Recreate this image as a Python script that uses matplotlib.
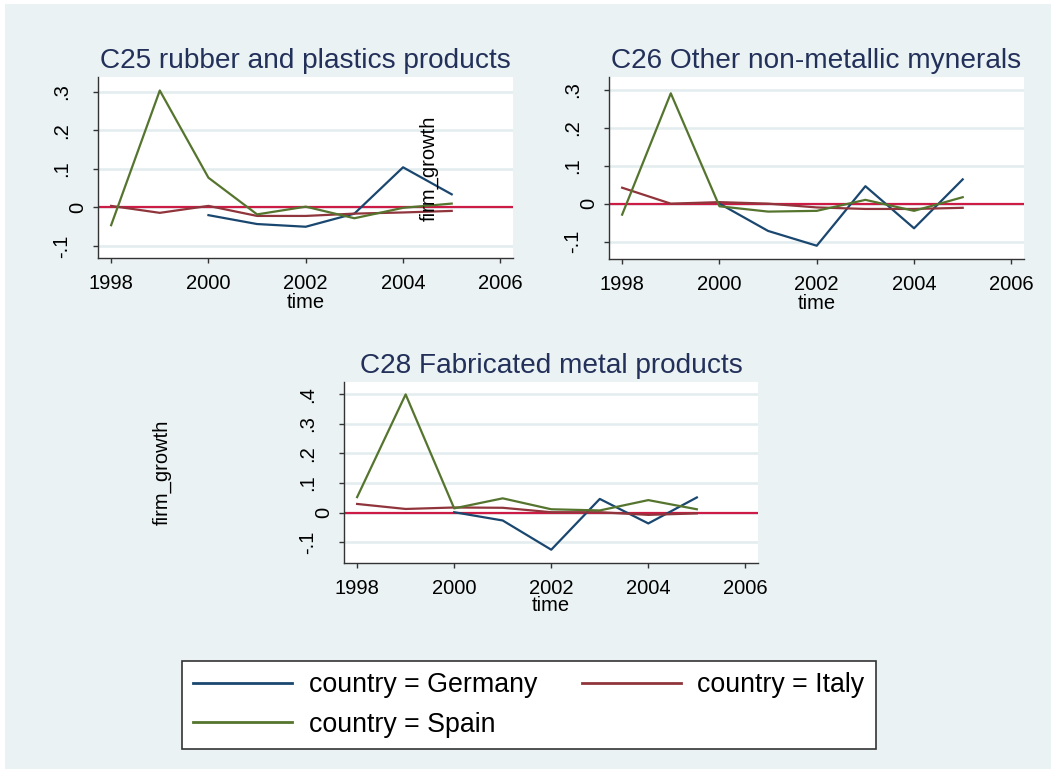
import matplotlib
matplotlib.use("Agg")
import matplotlib.pyplot as plt
from matplotlib.patches import Rectangle
from matplotlib.lines import Line2D
from matplotlib.transforms import blended_transform_factory, offset_copy

plt.rcParams["font.family"] = ["Liberation Sans", "DejaVu Sans"]

# ---- data -------------------------------------------------------------
years = [1998, 1999, 2000, 2001, 2002, 2003, 2004, 2005]
years_germany = [2000, 2001, 2002, 2003, 2004, 2005]

countries = ["Germany", "Italy", "Spain"]

c25_germany = [-0.020, -0.043, -0.050, -0.016, 0.104, 0.034]
c25_italy = [0.004, -0.014, 0.004, -0.022, -0.022, -0.016, -0.013, -0.009]
c25_spain = [-0.046, 0.303, 0.077, -0.018, 0.002, -0.028, -0.001, 0.010]

c26_germany = [0.000, -0.072, -0.111, 0.046, -0.065, 0.064]
c26_italy = [0.042, 0.000, 0.004, 0.000, -0.010, -0.014, -0.014, -0.011]
c26_spain = [-0.029, 0.291, -0.007, -0.021, -0.019, 0.010, -0.019, 0.017]

c28_germany = [0.001, -0.027, -0.126, 0.046, -0.037, 0.051]
c28_italy = [0.029, 0.012, 0.017, 0.016, 0.001, 0.001, -0.008, -0.003]
c28_spain = [0.052, 0.400, 0.014, 0.048, 0.011, 0.007, 0.042, 0.011]

titles = ["C25 rubber and plastics products",
          "C26 Other non-metallic mynerals",
          "C28 Fabricated metal products"]

xticks = [1998, 2000, 2002, 2004, 2006]
yticks_small = [-0.1, 0, 0.1, 0.2, 0.3]
yticks_large = [-0.1, 0, 0.1, 0.2, 0.3, 0.4]

# ---- style ------------------------------------------------------------
BG = "#EAF2F3"
GRID = "#E3ECEE"
AXIS = "#333333"
TITLE = "#22305A"
COLORS = {"Germany": "#1A476F", "Italy": "#90353B", "Spain": "#55752F"}
ZERO_LINE = "#CC1C45"
TICK_FS = 14.5

W, H = 1051, 769
fig = plt.figure(figsize=(W / 100, H / 100), dpi=100)
fig.patch.set_facecolor(BG)
fig.add_artist(Rectangle((0, 0), 5 / W, 1, transform=fig.transFigure,
                         facecolor="white", edgecolor="none", zorder=-5))
fig.add_artist(Rectangle((0, 1 - 4 / H), 1, 4 / H, transform=fig.transFigure,
                         facecolor="white", edgecolor="none", zorder=-5))


def px_axes(left, top, right, bottom):
    return fig.add_axes([left / W, 1 - bottom / H,
                         (right - left) / W, (bottom - top) / H])


def stata_label(v):
    s = f"{v:g}"
    if s.startswith("0."):
        s = s[1:]
    elif s.startswith("-0."):
        s = "-" + s[2:]
    return s


panels = [
    (titles[0], (98, 77, 513, 258), (-0.131, 0.338), yticks_small,
     c25_germany, c25_italy, c25_spain, 68, 308),
    (titles[1], (609, 77, 1024, 259), (-0.146, 0.334), yticks_small,
     c26_germany, c26_italy, c26_spain, 68, 309),
    (titles[2], (344, 382, 758, 563), (-0.171, 0.442), yticks_large,
     c28_germany, c28_italy, c28_spain, 373, 611),
]

PX = 0.72  # points per pixel at 100 dpi

for title, box, ylim, yticks, de, it, es, title_base, xlab_base in panels:
    left, top, right, bottom = box
    ax = px_axes(left, top, right, bottom)
    ax.set_facecolor("white")
    ax.set_xlim(1997.73, 2006.26)
    ax.set_ylim(*ylim)
    for side in ("top", "right"):
        ax.spines[side].set_visible(False)
    for side in ("left", "bottom"):
        ax.spines[side].set_color(AXIS)
        ax.spines[side].set_linewidth(1.0)

    ax.set_yticks(yticks)
    ax.set_xticks(xticks)
    ax.set_xticklabels([str(x) for x in xticks])
    ax.tick_params(axis="x", length=5 * PX, width=1.0, color=AXIS,
                   pad=11 * PX, labelsize=TICK_FS)
    ax.tick_params(axis="y", length=5 * PX, width=1.0, color=AXIS,
                   labelleft=False)
    ax.grid(axis="y", color=GRID, linewidth=1.8)
    ax.grid(axis="x", visible=False)
    ax.set_axisbelow(True)

    # rotated y tick labels
    base = blended_transform_factory(ax.transAxes, ax.transData)
    for v in yticks:
        gap = 11 if v == 0 else 27
        tr = offset_copy(base, fig=fig, x=-gap * PX, y=0, units="points")
        ax.text(0, v, stata_label(v), transform=tr, rotation=90,
                ha="right", va="center", fontsize=TICK_FS, color="black")

    ax.axhline(0, color=ZERO_LINE, linewidth=1.6, zorder=1.5)
    ax.plot(years_germany, de, color=COLORS["Germany"], lw=1.6, zorder=3)
    ax.plot(years, it, color=COLORS["Italy"], lw=1.6, zorder=3)
    ax.plot(years, es, color=COLORS["Spain"], lw=1.6, zorder=3)

    cx = (left + right) / 2
    fig.text(cx / W, 1 - title_base / H, title, ha="center", va="baseline",
             fontsize=20.2, color=TITLE)
    fig.text(cx / W, 1 - xlab_base / H, "time", ha="center", va="baseline",
             fontsize=TICK_FS, color="black")

# y-axis titles
fig.text(429 / W, 1 - 168 / H, "firm_growth", rotation=90, ha="center",
         va="center", fontsize=TICK_FS, color="black")
fig.text(162 / W, 1 - 472 / H, "firm_growth", rotation=90, ha="center",
         va="center", fontsize=TICK_FS, color="black")

# legend (row-major order: Germany, Italy / Spain)
handles = {c: Line2D([], [], color=COLORS[c], lw=2.0) for c in countries}
order = ["Germany", "Spain", "Italy"]
leg = fig.legend([handles[c] for c in order],
                 [f"country = {c}" for c in order],
                 ncol=2, loc="upper left",
                 bbox_to_anchor=(182 / W, 1 - 661 / H),
                 bbox_transform=fig.transFigure,
                 fontsize=19.3, frameon=True, fancybox=False, shadow=False,
                 borderpad=0.42, borderaxespad=0, handlelength=3.7,
                 handletextpad=0.62, columnspacing=1.65, labelspacing=0.5)
frame = leg.get_frame()
frame.set_facecolor("white")
frame.set_edgecolor(AXIS)
frame.set_linewidth(1.2)
frame.set_alpha(1)

fig.savefig("out.png", dpi=100, facecolor=fig.get_facecolor())
